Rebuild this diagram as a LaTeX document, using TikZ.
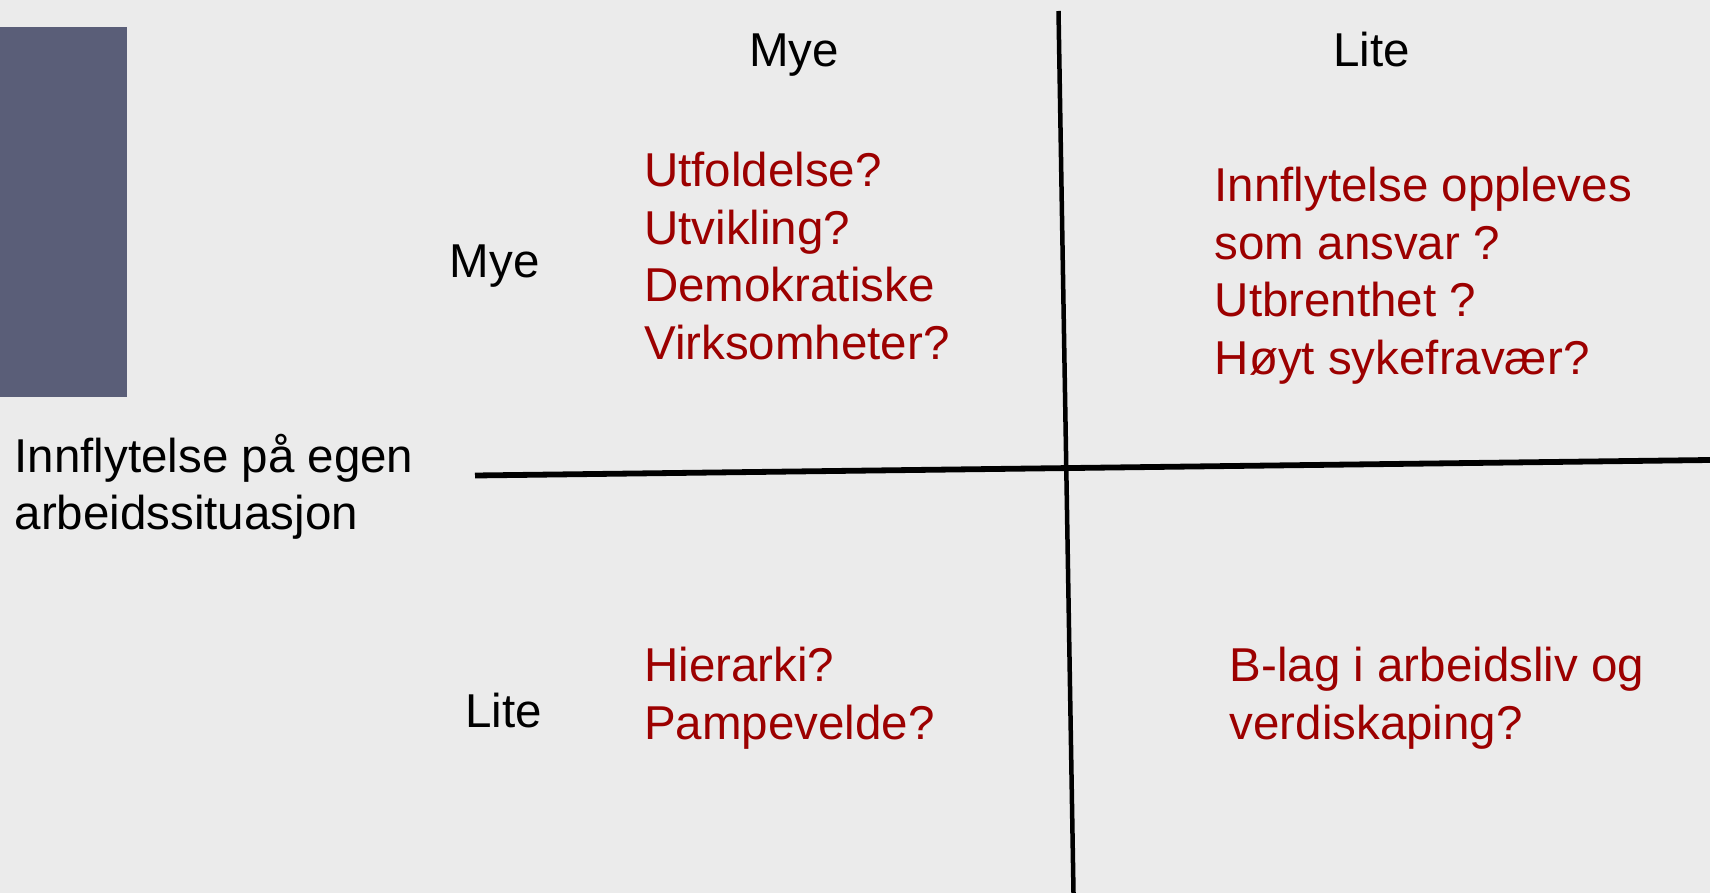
\documentclass[tikz,border=0pt]{standalone}
\usepackage{fontspec}
\setmainfont{Liberation Sans}
\definecolor{bg}{HTML}{EBEBEB}
\definecolor{slate}{HTML}{5A5E78}
\definecolor{ansred}{HTML}{9C0000}
\newcommand{\blk}[1]{\begin{tabular}[t]{@{}l@{}}#1\end{tabular}}
\begin{document}
\begin{tikzpicture}[x=1pt,y=-1pt,
  lbl/.style={anchor=base west, inner sep=0pt, font=\fontsize{47.5}{57.5}\selectfont, text=black},
  ans/.style={lbl, text=ansred},
  axisline/.style={draw=black, line cap=butt}]
\fill[bg] (0,0) rectangle (1710,893);
\useasboundingbox (0,0) rectangle (1710,893);
\fill[slate] (0,27) rectangle (127,397);
% axes
\coordinate (vtop) at (1058.5,11);
\coordinate (vbot) at (1073.5,893);
\coordinate (hleft) at (475,475.5);
\coordinate (hright) at (1710,460);
\draw[axisline, line width=4.5pt] (vtop) -- (vbot);
\draw[axisline, line width=5.8pt] (hleft) -- (hright);
% headers
\node[lbl] (hmye) at (749,66.7) {Mye};
\node[lbl] (hlite) at (1333,67) {Lite};
\node[lbl] (rmye) at (449.5,277.5) {Mye};
\node[lbl] (rlite) at (465,727) {Lite};
\node[lbl] (axis) at (14.5,472) {\blk{Innflytelse på egen\\arbeidssituasjon}};
% quadrants
\node[ans] (tl) at (644,186.7) {\blk{Utfoldelse?\\Utvikling?\\Demokratiske\\Virksomheter?}};
\node[ans] (tr) at (1214.5,201.7) {\blk{Innflytelse oppleves\\som ansvar ?\\Utbrenthet ?\\Høyt sykefravær?}};
\node[ans] (bl) at (644,681.7) {\blk{Hierarki?\\Pampevelde?}};
\node[ans] (br) at (1229.5,681.7) {\blk{B-lag i arbeidsliv og\\verdiskaping?}};
\end{tikzpicture}
\end{document}
